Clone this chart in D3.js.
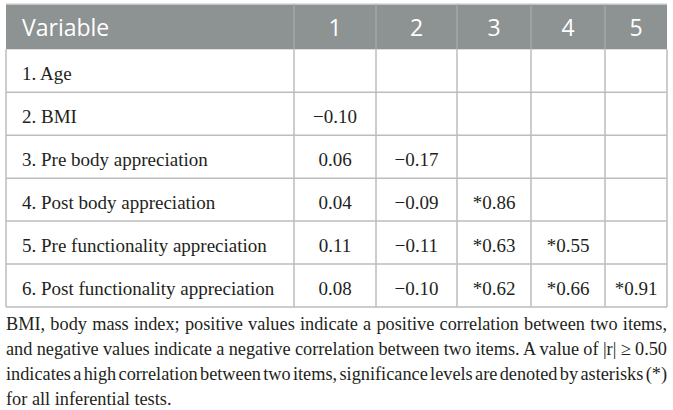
<!DOCTYPE html>
<html>
<head>
<meta charset="utf-8">
<script src="https://cdn.jsdelivr.net/npm/d3@7"></script>
<style>
  body { margin: 0; background: #fff; }
  .head { font-family: "Open Sans", sans-serif; font-size: 23px; fill: #fff; }
  .cell { font-family: "Liberation Serif", serif; font-size: 19px; fill: #231f20; }
  .note { font-family: "Liberation Serif", serif; font-size: 18.3px; fill: #231f20; }
</style>
</head>
<body>
<svg width="673" height="410"></svg>
<script>
// **** table data ****
var headerLabel = 'Variable';
var columns = ['1', '2', '3', '4', '5'];
var variables = [
    '1. Age',
    '2. BMI',
    '3. Pre body appreciation',
    '4. Post body appreciation',
    '5. Pre functionality appreciation',
    '6. Post functionality appreciation'
];
// lower triangle of correlation matrix
var correlations = [
    [],
    [-0.10],
    [0.06, -0.17],
    [0.04, -0.09, 0.86],
    [0.11, -0.11, 0.63, 0.55],
    [0.08, -0.10, 0.62, 0.66, 0.91]
];
var significant = [
    [],
    [false],
    [false, false],
    [false, false, true],
    [false, false, true, true],
    [false, false, true, true, true]
];
var noteLines = [
    'BMI, body mass index; positive values indicate a positive correlation between two items,',
    'and negative values indicate a negative correlation between two items. A value of |r| \u2265 0.50',
    'indicates a high correlation between two items, significance levels are denoted by asterisks (*)',
    'for all inferential tests.'
];

// **** layout ****
var svg = d3.select('svg');
var left = 6, right = 667, headTop = 4, headBottom = 49.3, tableBottom = 307;
var colEdges = [294, 376, 457, 531, 605, right];

var rowScale = d3.scaleBand().domain(variables).range([headBottom, tableBottom]);
var colScale = d3.scaleOrdinal().domain(columns).range(colEdges.slice(0, 5));
function colWidth(c) {
    var i = columns.indexOf(c);
    return colEdges[i + 1] - colEdges[i];
}
var fmt = d3.format('.2f');

// header band
svg.append('rect')
    .attr('x', left).attr('y', headTop)
    .attr('width', right - left).attr('height', headBottom - headTop)
    .style('fill', '#8d9292');
svg.append('line')
    .attr('x1', left).attr('x2', right).attr('y1', headTop).attr('y2', headTop)
    .style('stroke', '#d5d7d7').style('stroke-width', 1.5);

var headY = 35.5;
svg.append('text').attr('class', 'head')
    .attr('x', 22).attr('y', headY)
    .text(headerLabel);

svg.selectAll('.colhead')
    .data(columns).enter()
    .append('text')
    .attr('class', 'head colhead')
    .attr('text-anchor', 'middle')
    .attr('x', function (d) { return colScale(d) + colWidth(d) / 2; })
    .attr('y', headY)
    .text(function (d) { return d; });

// header separators
svg.selectAll('.hsep')
    .data(columns).enter()
    .append('line')
    .attr('class', 'hsep')
    .attr('x1', function (d) { return colScale(d); })
    .attr('x2', function (d) { return colScale(d); })
    .attr('y1', headTop).attr('y2', headBottom)
    .style('stroke', '#a9adad').style('stroke-width', 1.2);

// row lines
svg.selectAll('.rline')
    .data(variables).enter()
    .append('line')
    .attr('class', 'rline')
    .attr('x1', left).attr('x2', right)
    .attr('y1', function (d) { return rowScale(d) + rowScale.bandwidth(); })
    .attr('y2', function (d) { return rowScale(d) + rowScale.bandwidth(); })
    .style('stroke', '#bdbdbd').style('stroke-width', 1.5);

// vertical lines in the body
var vEdges = [left].concat(colEdges);
svg.selectAll('.vline')
    .data(vEdges).enter()
    .append('line')
    .attr('class', 'vline')
    .attr('x1', function (d) { return d; })
    .attr('x2', function (d) { return d; })
    .attr('y1', headBottom).attr('y2', tableBottom)
    .style('stroke', '#bdbdbd').style('stroke-width', 1.5);

// row labels
var textDy = 9.5;
svg.selectAll('.rowlabel')
    .data(variables).enter()
    .append('text')
    .attr('class', 'cell rowlabel')
    .attr('x', 22)
    .attr('y', function (d) { return rowScale(d) + rowScale.bandwidth() / 2 + textDy; })
    .text(function (d) { return d; });

// correlation values
variables.forEach(function (v, i) {
    var row = correlations[i].map(function (r, j) {
        return { col: columns[j], label: (significant[i][j] ? '*' : '') + fmt(r) };
    });
    svg.selectAll('.val-' + i)
        .data(row).enter()
        .append('text')
        .attr('class', 'cell val-' + i)
        .attr('text-anchor', 'middle')
        .attr('x', function (d) { return colScale(d.col) + colWidth(d.col) / 2; })
        .attr('y', rowScale(v) + rowScale.bandwidth() / 2 + textDy)
        .text(function (d) { return d.label; });
});

// footnote, justified
var noteY = d3.scaleLinear().domain([0, 1]).range([330, 355]);
noteLines.forEach(function (line, i) {
    var t = svg.append('text')
        .attr('class', 'note')
        .attr('x', left)
        .attr('y', noteY(i))
        .text(line);
    if (i < noteLines.length - 1) {
        var w = t.node().getComputedTextLength();
        var spaces = line.split(' ').length - 1;
        t.attr('word-spacing', (right - left - w) / spaces);
    }
});
</script>
</body>
</html>
